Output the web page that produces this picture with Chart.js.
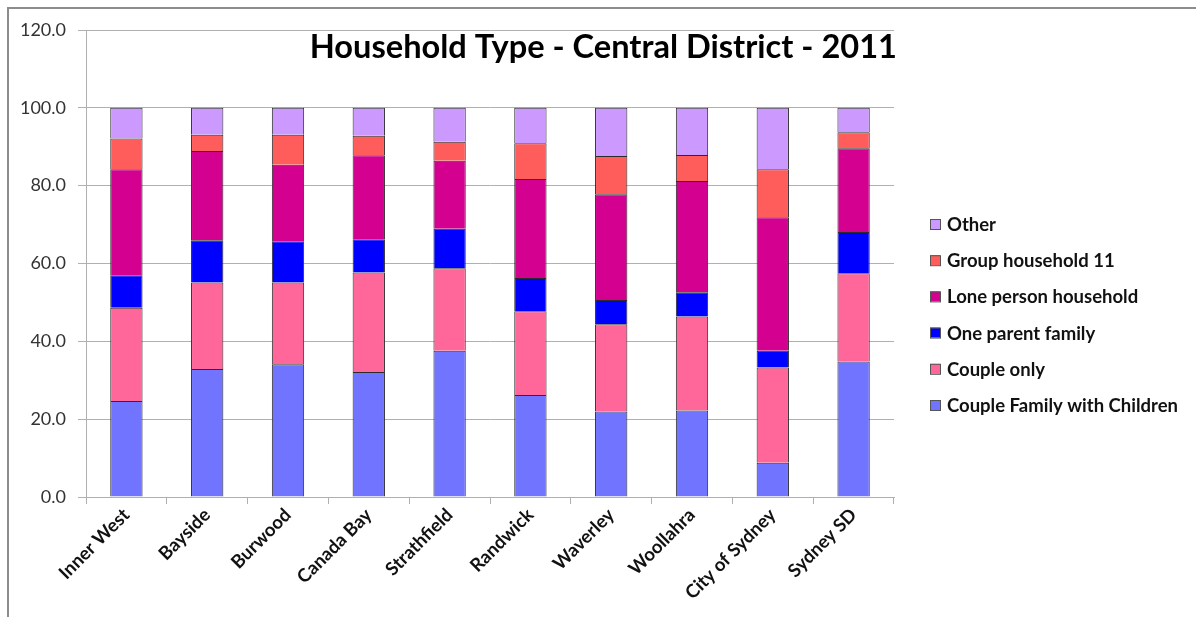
<!DOCTYPE html>
<html>
<head>
<meta charset="utf-8">
<script src="https://cdn.jsdelivr.net/npm/chart.js@4.4.0/dist/chart.umd.min.js"></script>
<style>
  html, body { margin: 0; padding: 0; background: #fff; }
  #wrap { position: relative; width: 1196px; height: 617px; }
  #frame { position: absolute; left: 7px; top: 7px; right: 0; bottom: 0;
           border-left: 2px solid #8c8c8c; border-top: 2px solid #8c8c8c; pointer-events: none; }
</style>
</head>
<body>
<div id="wrap">
  <canvas id="myChart" width="1196" height="617"></canvas>
  <div id="frame"></div>
</div>
<script>
// data
var categories = ['Inner West', 'Bayside', 'Burwood', 'Canada Bay', 'Strathfield', 'Randwick', 'Waverley', 'Woollahra', 'City of Sydney', 'Sydney SD'];
var coupleChildren = [24.7, 32.9, 34.1, 32.1, 37.6, 26.2, 22.0, 22.2, 8.8, 34.8];
var coupleOnly     = [23.9, 22.2, 21.0, 25.6, 21.2, 21.5, 22.4, 24.2, 24.5, 22.7];
var oneParent      = [8.4, 10.9, 10.6, 8.5, 10.1, 8.6, 6.2, 6.2, 4.3, 10.6];
var lonePerson     = [27.2, 22.9, 19.7, 21.6, 17.5, 25.4, 27.2, 28.6, 34.3, 21.5];
var groupHousehold = [7.9, 4.2, 7.7, 5.0, 4.9, 9.2, 9.8, 6.7, 12.3, 4.1];
var other          = [7.9, 6.9, 6.9, 7.2, 8.7, 9.1, 12.4, 12.1, 15.8, 6.3];
var yTicks = [0, 20, 40, 60, 80, 100, 120];
var chartTitle = 'Household Type - Central District - 2011';

var FONT = 'Lato, "Open Sans", sans-serif';

function ds(label, data, color) {
    return {
        label: label,
        data: data,
        backgroundColor: color,
        borderColor: '#2b2b2b',
        borderWidth: 1,
        barPercentage: 0.4,
        categoryPercentage: 1.0
    };
}

// title drawn inside the plot, top right
var titlePlugin = {
    id: 'insideTitle',
    afterDraw(chart) {
        var c = chart.ctx, a = chart.chartArea;
        c.save();
        c.font = 'bold 32.6px ' + FONT;
        c.fillStyle = '#000';
        c.textAlign = 'right';
        c.textBaseline = 'alphabetic';
        c.fillText(chartTitle, a.right + 3, a.top + 28);
        c.restore();
    }
};

// legend at the right, reversed order like Excel
var legendPlugin = {
    id: 'sideLegend',
    afterDraw(chart) {
        var c = chart.ctx, a = chart.chartArea;
        var sets = chart.data.datasets.slice().reverse();
        var step = 36.2;
        var y0 = 224;
        var x0 = a.right + 36;
        c.save();
        c.font = 'bold 18.5px ' + FONT;
        c.textBaseline = 'middle';
        c.textAlign = 'left';
        sets.forEach(function (s, i) {
            var y = y0 + i * step;
            c.fillStyle = s.backgroundColor;
            c.fillRect(x0, y - 5, 10, 10);
            c.strokeStyle = '#555';
            c.lineWidth = 1;
            c.strokeRect(x0 + 0.5, y - 4.5, 10, 10);
            c.fillStyle = '#111';
            c.fillText(s.label, x0 + 17, y + 1);
        });
        c.restore();
    }
};

const ctx = document.getElementById('myChart');
new Chart(ctx, {
    type: 'bar',
    data: {
        labels: categories,
        datasets: [
            ds('Couple Family with Children', coupleChildren, '#7074FF'),
            ds('Couple only', coupleOnly, '#FF6699'),
            ds('One parent family', oneParent, '#0000FF'),
            ds('Lone person household', lonePerson, '#D4008F'),
            ds('Group household 11', groupHousehold, '#FF5C5C'),
            ds('Other', other, '#CC99FF')
        ]
    },
    options: {
        responsive: false,
        animation: false,
        layout: { padding: { left: 8, right: 302, top: 30, bottom: 0 } },
        plugins: {
            legend: { display: false },
            title: { display: false },
            tooltip: { enabled: false }
        },
        scales: {
            x: {
                stacked: true,
                afterFit(scale) { scale.height = 120; },
                grid: {
                    display: true,
                    drawOnChartArea: false,
                    offset: true,
                    color: '#b0b0b0',
                    tickLength: 7
                },
                border: { color: '#b0b0b0' },
                ticks: {
                    maxRotation: 45,
                    minRotation: 45,
                    autoSkip: false,
                    color: '#111',
                    padding: 0,
                    font: { family: FONT, size: 18.5, weight: 'bold' }
                }
            },
            y: {
                stacked: true,
                min: 0,
                max: 120,
                afterFit(scale) { scale.width = 78; },
                afterBuildTicks(scale) {
                    scale.ticks = yTicks.map(function (v) { return { value: v }; });
                },
                grid: {
                    color: '#b0b0b0',
                    tickLength: 8
                },
                border: { color: '#b0b0b0' },
                ticks: {
                    color: '#333',
                    padding: 12,
                    font: { family: FONT, size: 18 },
                    callback: function (v) { return v.toFixed(1); }
                }
            }
        }
    },
    plugins: [titlePlugin, legendPlugin]
});
</script>
</body>
</html>
